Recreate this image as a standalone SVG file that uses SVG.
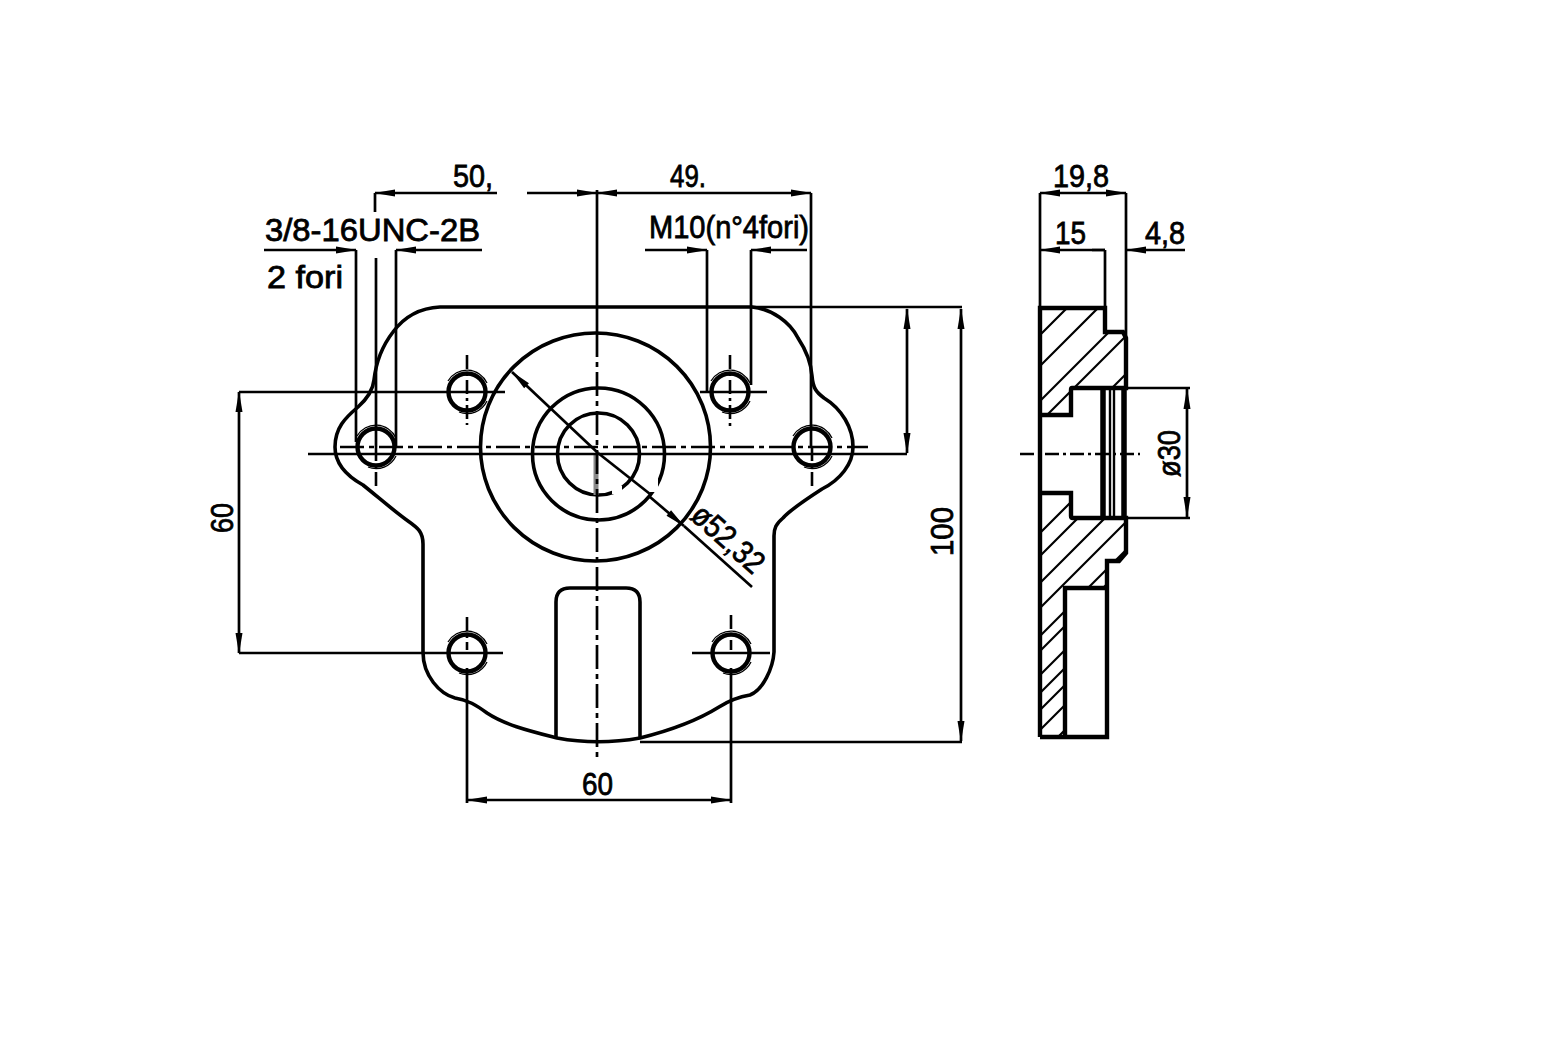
<svg xmlns="http://www.w3.org/2000/svg" width="1558" height="1062" viewBox="0 0 1558 1062">
<style>
.o{fill:none;stroke:#000;stroke-width:3.6;stroke-linejoin:round}
.t{fill:none;stroke:#000;stroke-width:2.7}
.f{fill:none;stroke:#000;stroke-width:1.3}
.c{fill:none;stroke:#000;stroke-width:2.7;stroke-dasharray:24 5 5 5}
.s{fill:none;stroke:#000;stroke-width:2.6;stroke-dasharray:14 4 3 4}
.h{fill:none;stroke:#000;stroke-width:2.2}
.g{fill:none;stroke:#000;stroke-width:2.4}
.k{fill:none;stroke:#000;stroke-width:4.4}
.w{fill:none;stroke:#000;stroke-width:5.500}
.a{marker-start:url(#as)}
.e{marker-end:url(#ae)}
text{font-family:"Liberation Sans",Arial,sans-serif;font-size:32px;fill:#000;stroke:#000;stroke-width:0.8}
</style>
<defs>
<marker id="as" markerUnits="userSpaceOnUse" markerWidth="24" markerHeight="10" refX="1" refY="5" orient="auto"><path d="M0 5L21 1.5V8.5Z" fill="#000"/></marker>
<marker id="ae" markerUnits="userSpaceOnUse" markerWidth="24" markerHeight="10" refX="23" refY="5" orient="auto"><path d="M24 5L3 1.5V8.5Z" fill="#000"/></marker>
<clipPath id="sec"><path d="M1040 308H1105V332H1123L1126 338V388H1071V415H1040Z M1040 493H1071V518H1126V553L1119 561H1107V588H1065V737H1040Z"/></clipPath>
<g id="hole"><circle r="18.500" class="k"/><path d="M-19 -11A22 22 0 0 1 20 -9M20 9A22 22 0 0 1 -8 20" class="f"/></g>
</defs>
<rect width="1558" height="1062" fill="#fff"/>

<g id="front-view">
<path id="outline" class="o" d="M440 307H752C772 309 790 322 798 338C806 350 811 362 812 376C813 388 816 392 824 398C842 409 853 428 853 447C853 464 840 480 822 489C805 500 790 510 783 518C776 524 774 528 774 536V652C773 668 763 690 750 695C738 697 730 700 719 707C695 722 668 731 640 738C612 743 584 743 557 738C530 731 505 725 487 713C476 705 468 700 455 698C440 694 423 676 423 652V544C423 532 418 528 408 521C394 511 378 497 363 485C345 475 335 462 335 447C335 428 345 418 358 407C368 398 373 390 374 380C376 362 383 345 393 332C404 317 420 308 440 307Z"/>
<ellipse id="flange" class="o" cx="595.500" cy="447" rx="115" ry="114"/>
<circle id="boss" class="o" cx="598.500" cy="454" r="66"/>
<circle id="bore" class="o" cx="598.500" cy="454" r="41"/>
<path id="slot" class="o" d="M556 737V602Q556 588 570 588H626Q640 588 640 602V737"/>
<use href="#hole" x="467" y="392"/>
<use href="#hole" x="730" y="392"/>
<use href="#hole" x="376" y="447"/>
<use href="#hole" x="812" y="447"/>
<use href="#hole" x="467" y="653"/>
<use href="#hole" x="731" y="653"/>
<rect x="643" y="477" width="15" height="15" fill="#fff"/>
<rect x="612" y="486" width="10" height="8" fill="#fff"/>
<rect x="569" y="446" width="9" height="9" fill="#fff"/>
<rect x="816" y="445" width="9" height="9" fill="#fff"/>
<path d="M596 455V495" stroke="#888" stroke-width="5" fill="none"/>
</g>

<g id="centre-lines">
<path class="t" d="M597 190V333M376 258V447"/>
<path class="c" d="M597 333V758"/>
<path class="c" d="M340 447H868"/>
<path class="s" d="M467 355V425M730 355V428M376 447V488M812 447V490M1020 454H1140"/>
<path class="s" d="M467 617V650M731 615V650"/>
</g>

<g id="connectors">
<path class="t a" d="M375 193H497"/>
<path class="t a" d="M597 193H527"/>
<path class="t a e" d="M597 193H811"/>
<path class="t" d="M375 193V212M811 193V447"/>
<path class="t e" d="M264 250H356"/>
<path class="t a" d="M396 250H482"/>
<path class="t" d="M356 250V442M396 250V447"/>
<path class="t e" d="M645 250H707"/>
<path class="t a" d="M751 250H807"/>
<path class="t" d="M707 250V392M751 250V385"/>
<path class="t" d="M752 307H962M640 742H962"/>
<path class="t a e" d="M961 309V741"/>
<path class="t" d="M308 454H907"/>
<path class="t a e" d="M907 309V453"/>
<path class="t a e" d="M239 392V653"/>
<path class="t" d="M239 392H505M239 653H503M692 653H770M700 392H767"/>
<path class="t a e" d="M467 800H731"/>
<path class="t" d="M467 668V803M731 668V803"/>
<path class="t a" d="M512 372L598 453"/>
<path class="t" d="M598 453L650 494"/>
<path class="t e" d="M650 497L684 526"/>
<path class="t" d="M684 526L752 587"/>
<path class="t a e" d="M1040 193H1126"/>
<path class="t a" d="M1040 250H1105"/>
<path class="t a" d="M1126 250H1185"/>
<path class="t" d="M1105 250H1092M1040 193V308M1126 193V338M1105 250V308"/>
<path class="t a e" d="M1187 389V517"/>
<path class="t" d="M1126 388H1190M1126 518H1190"/>
</g>

<g id="section">
<path class="h" clip-path="url(#sec)" d="M1030 345L1130 245M1030 376L1130 276M1030 411L1130 311M1030 432L1130 332M1030 470L1130 370M1030 543L1130 443M1030 566L1130 466M1030 593L1130 493M1030 618L1130 518M1030 646L1130 546M1030 661L1130 561M1030 685L1130 585M1030 703L1130 603M1030 720L1130 620M1030 740L1130 640M1030 765L1130 665"/>
<path class="k" d="M1040 737V308H1105V332H1123L1126 338V388H1072Q1071 388 1071 390V415H1040M1040 493H1071V516Q1071 518 1073 518H1126V553L1119 561H1107V737H1040M1065 737V588H1107"/>
<path class="w" d="M1103 388V518M1124 388V518"/>
<path class="g" d="M1110 388V518M1114 388V518"/>
</g>

<g id="labels">
<text x="453" y="187" textLength="40" lengthAdjust="spacingAndGlyphs">50,</text>
<text x="670" y="187" textLength="36" lengthAdjust="spacingAndGlyphs">49.</text>
<text x="265" y="241" textLength="215" lengthAdjust="spacingAndGlyphs">3/8-16UNC-2B</text>
<text x="267" y="288" textLength="76" lengthAdjust="spacingAndGlyphs">2 fori</text>
<text x="649" y="238" textLength="160" lengthAdjust="spacingAndGlyphs">M10(n°4fori)</text>
<text x="582" y="795" textLength="31" lengthAdjust="spacingAndGlyphs">60</text>
<text transform="translate(233 533) rotate(-90)" textLength="30" lengthAdjust="spacingAndGlyphs">60</text>
<text transform="translate(953 556) rotate(-90)" textLength="49" lengthAdjust="spacingAndGlyphs">100</text>
<text transform="translate(689 518) rotate(42)" textLength="86" lengthAdjust="spacingAndGlyphs">ø52,32</text>
<text x="1053" y="187" textLength="56" lengthAdjust="spacingAndGlyphs">19,8</text>
<text x="1055" y="244" textLength="31" lengthAdjust="spacingAndGlyphs">15</text>
<text x="1145" y="244" textLength="40" lengthAdjust="spacingAndGlyphs">4,8</text>
<text transform="translate(1180 477) rotate(-90)" textLength="47" lengthAdjust="spacingAndGlyphs">ø30</text>
</g>
</svg>
